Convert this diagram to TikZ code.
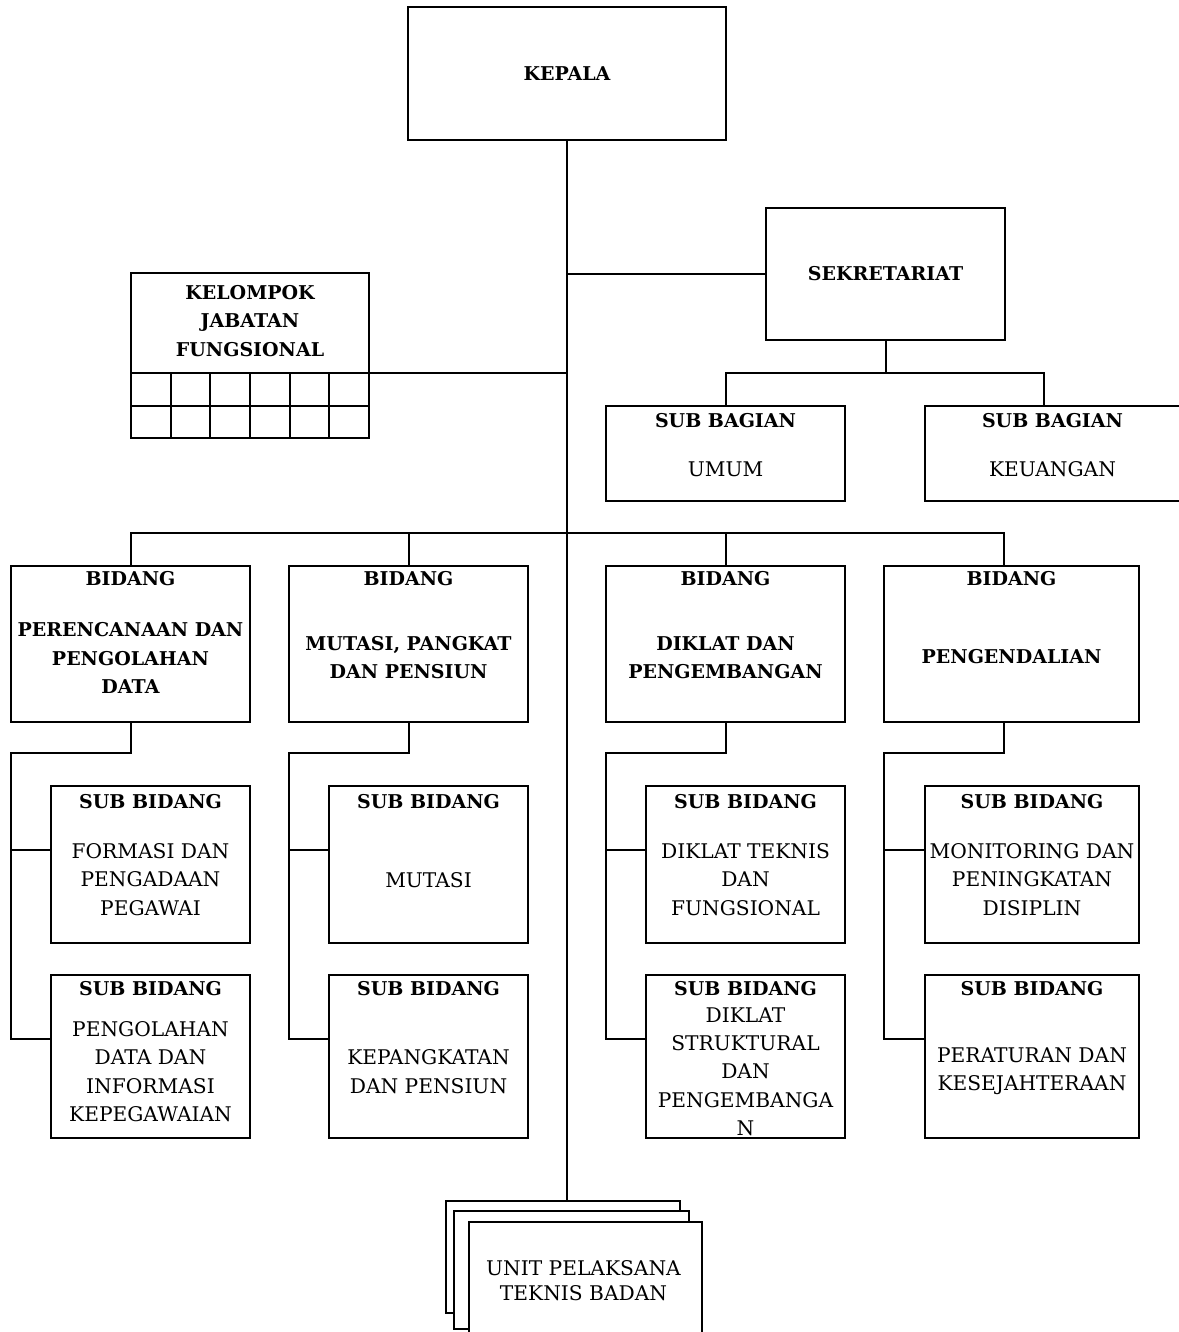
\documentclass[tikz,border=0pt]{standalone}
\usepackage{fontspec}
\setmainfont{DejaVu Serif}
\usetikzlibrary{fit,calc}
\newcommand\plaintxt{\fontsize{20.2}{28.3}\selectfont}
\newcommand\boldtxt{\fontsize{19}{28.3}\selectfont\bfseries}

\begin{document}
\begin{tikzpicture}[x=1pt,y=-1pt,
  unit/.style={draw, line width=2pt, inner sep=0pt, outer sep=0pt},
  link/.style={line width=2pt},
  head/.style={font=\boldtxt, align=center, inner sep=0pt},
  body/.style={font=\plaintxt, align=center, inner sep=0pt},
  layer/.style={draw, fill=white, line width=1.4pt, inner sep=0pt, outer sep=0pt}]

\useasboundingbox[fill=white] (0,0) rectangle (1178,1332);

% top level
\node[unit, fit={(408,7) (726,140)}] (kepala) {};
\node[head] (kepala-t) at (kepala.center) {KEPALA};

\node[unit, fit={(766,208) (1005,340)}] (sekr) {};
\node[head] (sekr-t) at (sekr.center) {SEKRETARIAT};

% functional group with its grid
\node[unit, fit={(131,273) (369,373)}] (kjf) {};
\node[head] (kjf-t) at ($(kjf.center)+(0,-2)$) {KELOMPOK\\JABATAN\\FUNGSIONAL};
\node[unit, fit={(131,373) (369,438)}] (kjf-grid) {};
\draw[link] (kjf-grid.west) -- (kjf-grid.east);
\foreach \k in {1,...,5}
  \draw[link] ($(kjf-grid.north west)!\k/6!(kjf-grid.north east)$) -- ($(kjf-grid.south west)!\k/6!(kjf-grid.south east)$);

% secretariat sections
\node[unit, fit={(606,406) (845,501)}] (umum) {};
\node[head] (umum-h) at ($(umum.north)+(0,15)$) {SUB BAGIAN};
\node[body] (umum-t) at ($(umum.north)+(0,63)$) {UMUM};
\node[unit, fit={(925,406) (1180,501)}] (keu) {};
\node[head] (keu-h) at ($(keu.north)+(0,15)$) {SUB BAGIAN};
\node[body] (keu-t) at ($(keu.north)+(0,63)$) {KEUANGAN};
\coordinate (keu-in) at ($(keu.north west)+(119,0)$);
\coordinate (sbar) at ($(umum.north)+(0,-33)$);

% divisions
\node[unit, fit={(11,566) (250,722)}] (b1) {};
\node[unit, fit={(289,566) (528,722)}] (b2) {};
\node[unit, fit={(606,566) (845,722)}] (b3) {};
\node[unit, fit={(884,566) (1139,722)}] (b4) {};
\coordinate (b4-in) at ($(b4.north)+(-7.5,0)$);
\coordinate (b4-out) at ($(b4.south)+(-7.5,0)$);
\coordinate (bbar) at ($(b1.north)+(0,-33)$);

\node[head] (b1-h) at ($(b1.north)+(0,13)$) {BIDANG};
\node[head] (b1-t) at ($(b1.north)+(0,92)$) {PERENCANAAN DAN\\PENGOLAHAN\\DATA};
\node[head] (b2-h) at ($(b2.north)+(0,13)$) {BIDANG};
\node[head] (b2-t) at ($(b2.north)+(0,91.5)$) {MUTASI, PANGKAT\\DAN PENSIUN};
\node[head] (b3-h) at ($(b3.north)+(0,13)$) {BIDANG};
\node[head] (b3-t) at ($(b3.north)+(0,91.5)$) {DIKLAT DAN\\PENGEMBANGAN};
\node[head] (b4-h) at ($(b4.north)+(0,13)$) {BIDANG};
\node[head] (b4-t) at ($(b4.north)+(0,91)$) {PENGENDALIAN};

% sub-divisions
\node[unit, fit={(51,786) (250,943)}] (s11) {};
\node[unit, fit={(51,975) (250,1138)}] (s12) {};
\node[unit, fit={(329,786) (528,943)}] (s21) {};
\node[unit, fit={(329,975) (528,1138)}] (s22) {};
\node[unit, fit={(646,786) (845,943)}] (s31) {};
\node[unit, fit={(646,975) (845,1138)}] (s32) {};
\node[unit, fit={(925,786) (1139,943)}] (s41) {};
\node[unit, fit={(925,975) (1139,1138)}] (s42) {};

\foreach \s in {s11,s21,s31,s41}
  \node[head] (\s-h) at ($(\s.north)+(0,16)$) {SUB BIDANG};
\foreach \s in {s12,s22,s32,s42}
  \node[head] (\s-h) at ($(\s.north)+(0,14)$) {SUB BIDANG};

\node[body] (s11-t) at ($(s11.north)+(0,93.5)$) {FORMASI DAN\\PENGADAAN\\PEGAWAI};
\node[body] (s12-t) at ($(s12.north)+(0,96.5)$) {PENGOLAHAN\\DATA DAN\\INFORMASI\\KEPEGAWAIAN};
\node[body] (s21-t) at ($(s21.north)+(0,94)$) {MUTASI};
\node[body] (s22-t) at ($(s22.north)+(0,96.5)$) {KEPANGKATAN\\DAN PENSIUN};
\node[body] (s31-t) at ($(s31.north)+(0,93.5)$) {DIKLAT TEKNIS\\DAN\\FUNGSIONAL};
\node[body] (s32-t) at ($(s32.north)+(0,96.5)$) {DIKLAT\\STRUKTURAL\\DAN\\PENGEMBANGA\\N};
\node[body] (s41-t) at ($(s41.north)+(0,93.5)$) {MONITORING DAN\\PENINGKATAN\\DISIPLIN};
\node[body] (s42-t) at ($(s42.north)+(0,96.5)$) {PERATURAN DAN\\KESEJAHTERAAN};

% technical units (stacked sheets)
\node[layer, fit={(446,1201) (680,1313)}] (upt-back) {};
\node[layer, fit={(454,1211) (689,1329)}] (upt-mid) {};
\node[layer, fit={(469,1222) (702,1345)}] (upt) {};
\node[body, font=\fontsize{20.2}{25}\selectfont] (upt-t) at ($(upt.north)+(-2,59)$) {UNIT PELAKSANA\\TEKNIS BADAN};

% connectors
\draw[link] (kepala.south) -- (kepala.south |- upt-back.north);
\draw[link] (sekr.west) -- (sekr.west -| kepala.south);
\draw[link] (kjf.south east) -- (kjf.south east -| kepala.south);
\draw[link] (sekr.south) -- (sekr.south |- sbar);
\draw[link] (umum.north) |- (keu-in |- sbar) -- (keu-in);

\draw[link] (b1.north) -- (bbar) -- (bbar -| b4-in) -- (b4-in);
\draw[link] (b2.north) -- (b2.north |- bbar);
\draw[link] (b3.north) -- (b3.north |- bbar);

\draw[link] (b1.south) -- ++(0,31) -| ($(b1.south west |- s12.north west)+(0,64)$) -- ($(s12.north west)+(0,64)$);
\draw[link] ($(b1.south west |- s11.north west)+(0,64)$) -- ($(s11.north west)+(0,64)$);
\draw[link] (b2.south) -- ++(0,31) -| ($(b2.south west |- s22.north west)+(0,64)$) -- ($(s22.north west)+(0,64)$);
\draw[link] ($(b2.south west |- s21.north west)+(0,64)$) -- ($(s21.north west)+(0,64)$);
\draw[link] (b3.south) -- ++(0,31) -| ($(b3.south west |- s32.north west)+(0,64)$) -- ($(s32.north west)+(0,64)$);
\draw[link] ($(b3.south west |- s31.north west)+(0,64)$) -- ($(s31.north west)+(0,64)$);
\draw[link] (b4-out) -- ++(0,31) -| ($(b4.south west |- s42.north west)+(0,64)$) -- ($(s42.north west)+(0,64)$);
\draw[link] ($(b4.south west |- s41.north west)+(0,64)$) -- ($(s41.north west)+(0,64)$);
\end{tikzpicture}
\end{document}
